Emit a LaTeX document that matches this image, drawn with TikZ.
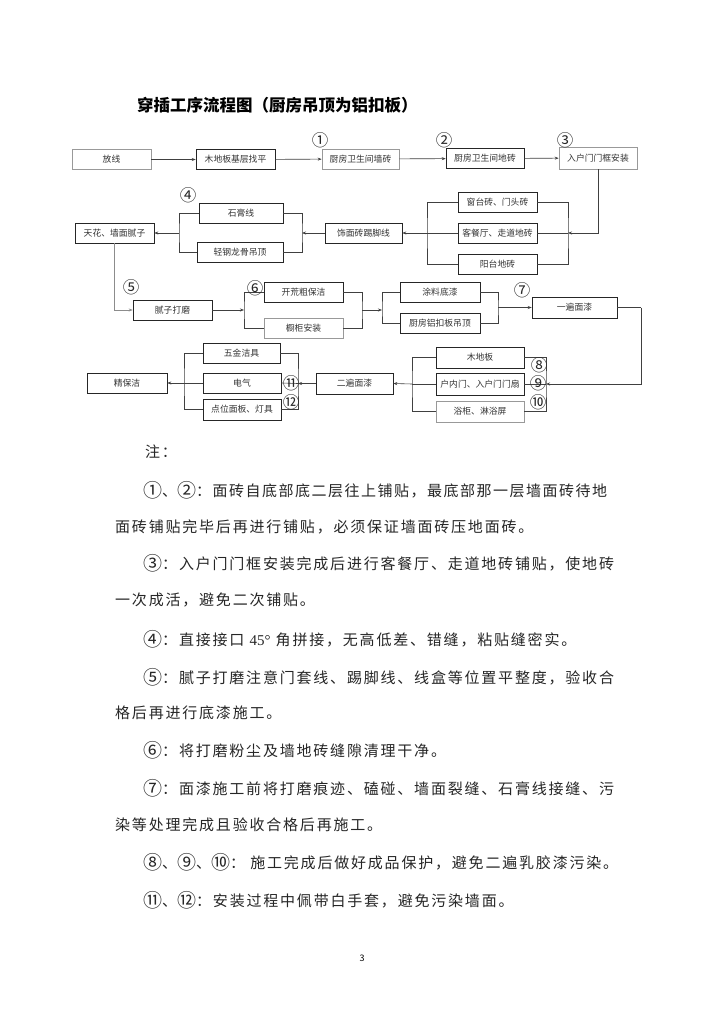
\documentclass[tikz,border=0pt]{standalone}
\usepackage{fontspec}
\setmainfont{Noto Sans CJK SC}
\newfontfamily\notefont[LetterSpace=12]{Noto Sans CJK SC}
\newfontfamily\notefontb[LetterSpace=10]{Noto Sans CJK SC}
\newfontfamily\latinserif{Liberation Serif}
\newcommand\cnum[1]{{\fontsize{19}{15}\selectfont\raisebox{-1.2pt}{#1}}}
\usetikzlibrary{arrows.meta}
\begin{document}
\begin{tikzpicture}[x=1pt,y=-1pt,
  box/.style={draw=black!85, line width=0.6pt, minimum height=20pt, inner sep=0pt, font=\fontsize{8.8}{10}\selectfont, text=black!80},
  gbox/.style={box, draw=black!40},
  ln/.style={draw=black!75, line width=0.6pt},
  arr/.style={ln, -{Stealth[length=4pt,width=3pt]}},
  num/.style={font=\fontsize{16.5}{16}\selectfont, inner sep=0pt, text=black!85},
  note/.style={anchor=west, inner sep=0pt, font=\notefont\fontsize{15}{15}\selectfont, text=black!85}]
\useasboundingbox (0,0) rectangle (724,1024);
\fill[white] (0,0) rectangle (724,1024);

% title
\node[anchor=west, inner sep=0pt, font=\bfseries\fontsize{16.5}{17}\selectfont] (title) at (137,105) {穿插工序流程图（厨房吊顶为铝扣板）};

% row 1
\node[gbox, minimum width=79pt] (fx) at (111.5,159.5) {放线};
\node[box, minimum width=79pt] (mdb) at (235.5,159.5) {木地板基层找平};
\node[gbox, minimum width=77pt] (qz) at (360.5,159) {厨房卫生间墙砖};
\node[box, minimum width=78pt] (dz) at (485,158.5) {厨房卫生间地砖};
\node[gbox, minimum width=78pt, minimum height=22pt] (mk) at (598,158) {入户门门框安装};

% row 2
\node[box, minimum width=79pt] (ct) at (497.5,202) {窗台砖、门头砖};
\node[box, minimum width=79pt] (kc) at (497.5,233) {客餐厅、走道地砖};
\node[box, minimum width=79pt] (yt) at (497.5,264.5) {阳台地砖};
\node[box, minimum width=77pt] (tj) at (363.5,233) {饰面砖踢脚线};
\node[box, minimum width=84pt] (sg) at (241,213) {石膏线};
\node[box, minimum width=86pt] (qg) at (240,252.5) {轻钢龙骨吊顶};
\node[box, minimum width=79pt] (th) at (114.5,233) {天花、墙面腻子};

% row 3
\node[box, minimum width=79pt] (nz) at (172.5,310) {腻子打磨};
\node[box, minimum width=79pt] (kh) at (303.5,292) {开荒粗保洁};
\node[gbox, minimum width=79pt] (cg) at (303.5,328) {橱柜安装};
\node[box, minimum width=80pt] (tl) at (440,292) {涂料底漆};
\node[box, minimum width=80pt] (lk) at (440,323) {厨房铝扣板吊顶};
\node[box, minimum width=85pt, minimum height=21pt] (yb) at (574.5,307.5) {一遍面漆};

% row 4
\node[box, minimum width=88pt, minimum height=21pt] (mb) at (480,357.5) {木地板};
\node[box, minimum width=88pt, minimum height=22pt] (hn) at (480,384) {户内门、入户门门扇};
\node[gbox, minimum width=88pt, minimum height=21pt] (yg) at (480,411.5) {浴柜、淋浴屏};
\node[box, minimum width=77pt, minimum height=21pt] (eb) at (354.5,383.5) {二遍面漆};
\node[box, minimum width=77pt] (wj) at (241.5,353) {五金洁具};
\node[box, minimum width=78pt] (dq) at (242,383) {电气};
\node[box, minimum width=78pt, minimum height=21pt] (dw) at (242,409.5) {点位面板、灯具};
\node[box, minimum width=80pt] (jb) at (127,383) {精保洁};

% bracket coordinates
\coordinate (r2) at (568,233);
\coordinate (l2) at (427,233);
\coordinate (r1) at (302,233);
\coordinate (l1) at (179,233);
\coordinate (s6) at (244,310);
\coordinate (e6) at (362,310);
\coordinate (s7) at (382,310);
\coordinate (e7) at (498,307.5);
\coordinate (c7) at (641,307.5);
\coordinate (r4) at (546,384);
\coordinate (l4) at (412,384);
\coordinate (r5) at (298,383.5);
\coordinate (l5) at (184,383);

% row 1 connectors
\draw[arr] (fx) -- (mdb);
\draw[arr] (mdb) -- (qz);
\draw[arr] (qz) -- (dz);
\draw[arr] (dz) -- (mk);

% row 2 connectors
\draw[arr] (mk.south) |- (r2);
\draw[ln] (ct.east) -| (r2) |- (yt.east);
\draw[ln] (kc.east) -- (r2);
\draw[ln] (ct.west) -| (l2) |- (yt.west);
\draw[ln] (kc.west) -- (l2);
\draw[arr] (l2) -- (tj.east);
\draw[arr] (tj.west) -- (r1);
\draw[ln] (sg.east) -| (r1) |- (qg.east);
\draw[ln] (sg.west) -| (l1) |- (qg.west);
\draw[arr] (l1) -- (th.east);

% row 3 connectors
\draw[arr, draw=black!45] (th.south) |- (nz.west);
\draw[arr] (nz.east) -- (s6);
\draw[ln] (kh.west) -| (s6) |- (cg.west);
\draw[ln] (kh.east) -| (e6) |- (cg.east);
\draw[arr] (e6) -- (s7);
\draw[ln] (tl.west) -| (s7) |- (lk.west);
\draw[ln] (tl.east) -| (e7) |- (lk.east);
\draw[arr] (e7) -- (yb.west);
\draw[ln] (yb.east) -- (c7);
\draw[arr] (c7) |- (r4);

% row 4 connectors
\draw[ln] (mb.east) -| (r4) |- (yg.east);
\draw[ln] (hn.east) -- (r4);
\draw[ln] (mb.west) -| (l4) |- (yg.west);
\draw[ln] (hn.west) -- (l4);
\draw[arr] (l4) -- (eb.east);
\draw[arr] (eb.west) -- (r5);
\draw[ln] (wj.east) -| (r5) |- (dw.east);
\draw[ln] (dq.east) -- (r5);
\draw[ln] (wj.west) -| (l5) |- (dw.west);
\draw[ln] (dq.west) -- (l5);
\draw[arr] (l5) -- (jb.east);

% circled numbers
\node[num] (n1) at (320,140) {①};
\node[num] (n2) at (444,140) {②};
\node[num] (n3) at (565,140) {③};
\node[num] (n4) at (188,195) {④};
\node[num] (n5) at (131,287) {⑤};
\node[num] (n6) at (255,288) {⑥};
\node[num] (n7) at (522,290) {⑦};
\node[num] (n8) at (539,365) {⑧};
\node[num] (n9) at (538,383) {⑨};
\node[num] (n10) at (538,402) {⑩};
\node[num] (n11) at (291,383) {⑪};
\node[num] (n12) at (291,402) {⑫};

% notes
\node[note] (t0) at (145,452) {注：};
\node[note, font=\notefontb\fontsize{15}{15}\selectfont] (t1) at (143,490) {\cnum{①}、\cnum{②}：面砖自底部底二层往上铺贴，最底部那一层墙面砖待地};
\node[note] (t2) at (115,527) {面砖铺贴完毕后再进行铺贴，必须保证墙面砖压地面砖。};
\node[note] (t3) at (143,563) {\cnum{③}：入户门门框安装完成后进行客餐厅、走道地砖铺贴，使地砖};
\node[note] (t4) at (115,600) {一次成活，避免二次铺贴。};
\node[note] (t5) at (143,639) {\cnum{④}：直接接口 {\latinserif 45°} 角拼接，无高低差、错缝，粘贴缝密实。};
\node[note] (t6) at (143,677) {\cnum{⑤}：腻子打磨注意门套线、踢脚线、线盒等位置平整度，验收合};
\node[note] (t7) at (115,713) {格后再进行底漆施工。};
\node[note] (t8) at (143,750) {\cnum{⑥}：将打磨粉尘及墙地砖缝隙清理干净。};
\node[note] (t9) at (143,788) {\cnum{⑦}：面漆施工前将打磨痕迹、磕碰、墙面裂缝、石膏线接缝、污};
\node[note] (t10) at (115,825) {染等处理完成且验收合格后再施工。};
\node[note] (t11) at (143,862) {\cnum{⑧}、\cnum{⑨}、\cnum{⑩}： 施工完成后做好成品保护，避免二遍乳胶漆污染。};
\node[note] (t12) at (143,900) {\cnum{⑪}、\cnum{⑫}：安装过程中佩带白手套，避免污染墙面。};

\node[inner sep=0pt, font=\fontsize{9}{9}\selectfont] (pg) at (362,958) {3};
\end{tikzpicture}
\end{document}
